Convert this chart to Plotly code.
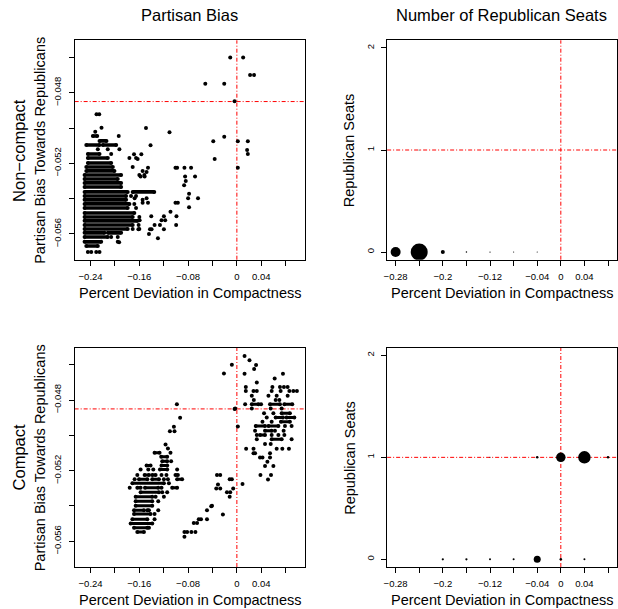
import plotly.graph_objects as go

# ---------------- data ----------------
# Top-left (Non-compact, Partisan bias): individual points
tl_x = [-0.0109, 0.0103, 0.0217, 0.0282, -0.0518, -0.0207, -0.0038, -0.2302, -0.2258, -0.222,
        -0.1491, -0.1105, -0.0207, -0.1938, -0.0387, 0.0016, 0.018, -0.1416, 0.0168, 0.018,
        -0.1687, -0.1567, -0.1628, -0.0364, 0.0016, -0.1007, -0.098, -0.086, -0.0751, -0.1458,
        -0.1481, -0.1579, -0.1513, -0.0849, -0.0686, -0.0838, -0.0865, -0.0784, -0.0637, -0.08,
        -0.1677, -0.1481, -0.1546, -0.1458, -0.1007, -0.0968, -0.0784, -0.1089, -0.1404, -0.1197,
        -0.0991, -0.1595, -0.1236, -0.1176, -0.135, -0.1262, -0.0996, -0.1616, -0.1425, -0.1399,
        -0.1197, -0.1442, -0.1295, -0.1931,
        -0.2323, -0.1927, -0.2281, -0.2118, -0.2062, -0.1763, -0.1654, -0.1709, -0.1546, -0.16,
        -0.1518, -0.1736, -0.1654, -0.1546, -0.1682, -0.1654, -0.16, -0.1612, -0.1709, -0.16,
        -0.2062, -0.1954, -0.1954, -0.2444, -0.2389, -0.2307, -0.2253]
tl_y = [-0.046, -0.046, -0.047, -0.047, -0.04749, -0.04749, -0.04849, -0.04922, -0.04922, -0.04998,
        -0.05, -0.05024, -0.05049, -0.05045, -0.05075, -0.05075, -0.05075, -0.05098, -0.05124, -0.05147,
        -0.05149, -0.05149, -0.05175, -0.05175, -0.05225, -0.05225, -0.05225, -0.05225, -0.05225, -0.05225,
        -0.05249, -0.05275, -0.05275, -0.05275, -0.05275, -0.053, -0.05324, -0.05373, -0.05398, -0.05398,
        -0.05398, -0.05398, -0.05423, -0.05423, -0.05423, -0.05423, -0.05449, -0.05474, -0.055, -0.055,
        -0.055, -0.05522, -0.05522, -0.05522, -0.05549, -0.05549, -0.05549, -0.05573, -0.05573, -0.05573,
        -0.05573, -0.056, -0.05624, -0.05647,
        -0.05021, -0.0512, -0.0512, -0.0512, -0.05147, -0.0517, -0.0517, -0.05221, -0.05243, -0.05266,
        -0.05266, -0.05385, -0.05385, -0.05407, -0.0543, -0.05453, -0.05504, -0.05549, -0.05572, -0.05572,
        -0.05617, -0.05617, -0.05645, -0.05702, -0.05702, -0.05702, -0.05702]
# Top-left: densely packed rows of points (row value, start, end)
tl_row_y = [-0.05045, -0.05073, -0.05096, -0.05096, -0.05147, -0.0517, -0.05198, -0.05221, -0.05243,
            -0.05266, -0.05289, -0.05311, -0.05334, -0.05362, -0.05362, -0.05385, -0.05407, -0.0543,
            -0.05453, -0.05481, -0.05504, -0.05526, -0.05549, -0.05572, -0.05594, -0.05594, -0.05617,
            -0.05645, -0.05668]
tl_row_x0 = [-0.2362, -0.2253, -0.247, -0.2199, -0.2444, -0.2444, -0.2444, -0.247, -0.247,
             -0.2498, -0.2498, -0.2498, -0.2498, -0.2498, -0.1709, -0.2498, -0.2498, -0.2498,
             -0.2498, -0.2498, -0.2498, -0.2498, -0.2498, -0.2498, -0.2498, -0.2117, -0.2498,
             -0.2498, -0.247]
tl_row_x1 = [-0.2291, -0.2139, -0.2253, -0.198, -0.2253, -0.2117, -0.2062, -0.2035, -0.2008,
             -0.1899, -0.1954, -0.1899, -0.1899, -0.1791, -0.1355, -0.1817, -0.1817, -0.1763,
             -0.1791, -0.1682, -0.1709, -0.1628, -0.1709, -0.1791, -0.2171, -0.1899, -0.2117,
             -0.2226, -0.2281]

# Bottom-left (Compact, Partisan bias): individual points
bl_x = [-0.117, -0.1131, -0.1089, -0.1078, -0.1579, -0.1453, -0.1371, -0.098, -0.1633, -0.1236,
        -0.1155, -0.1677, -0.1197, -0.1131, -0.1115, -0.1758, -0.1236, -0.1224, -0.1143, -0.1333,
        -0.1197, -0.129, -0.129, -0.135, -0.135, -0.1442,
        -0.0984, -0.0931, -0.1033, -0.1023, -0.1099, -0.0082, -0.0212, -0.0038, 0.0016,
        -0.086, -0.0816, -0.0746, -0.068, -0.086, -0.0707, -0.0653, -0.0625, -0.0588, -0.049,
        -0.042, -0.049, -0.0229, -0.031, -0.0273, -0.0338, -0.0326, -0.0273, -0.0118, -0.0082,
        -0.0163, -0.0109, -0.0118, -0.006, 0.0093, -0.0408,
        0.0126, 0.0207, 0.0315, 0.0283, 0.0126, 0.0756, 0.062, 0.0327,
        0.0147, 0.0583, 0.0707, 0.0772, 0.0833,
        0.0147, 0.0273, 0.0327, 0.0571, 0.0718, 0.0861, 0.0926, 0.0985,
        0.0245, 0.0518, 0.0653, 0.0833,
        0.0278, 0.0637, 0.0697,
        0.0136, 0.0397,
        -0.0028, 0.0245, 0.0555, 0.0735,
        0.0446, 0.0599, 0.049, 0.042, 0.0571,
        0.0299, 0.0625, 0.0767,
        0.0327, 0.0571, 0.0681, 0.0779,
        0.0327, 0.0898, 0.0462, 0.0555,
        0.0152, 0.0273, 0.0653, 0.0746, 0.0854,
        0.0273, 0.0299, 0.0544, 0.038, 0.042, 0.0544,
        0.0501, 0.0462, 0.0599, 0.0387, 0.056, 0.0511, 0.0789, 0.0898]
bl_y = [-0.05051, -0.05074, -0.05099, -0.05146, -0.05193, -0.05193, -0.05193, -0.05193, -0.05224, -0.05224,
        -0.05224, -0.05248, -0.05248, -0.05248, -0.05272, -0.05297, -0.05297, -0.05323, -0.05323, -0.05348,
        -0.05348, -0.05374, -0.05424, -0.05446, -0.05475, -0.05524,
        -0.04824, -0.049, -0.04951, -0.04976, -0.04976, -0.046, -0.04649, -0.04851, -0.04949,
        -0.05547, -0.05547, -0.05547, -0.05547, -0.05575, -0.05496, -0.05496, -0.05475, -0.05475, -0.05475,
        -0.05401, -0.05424, -0.05448, -0.05278, -0.05301, -0.05301, -0.05225, -0.05225, -0.05248, -0.05248,
        -0.05323, -0.05323, -0.05348, -0.05301, -0.05275, -0.05399,
        -0.0455, -0.04574, -0.04601, -0.04624, -0.04651, -0.04651, -0.04677, -0.047,
        -0.04726, -0.04726, -0.04726, -0.04726, -0.04726,
        -0.04749, -0.04749, -0.04749, -0.04749, -0.04749, -0.04749, -0.04749, -0.04749,
        -0.04776, -0.04776, -0.04776, -0.04776,
        -0.048, -0.048, -0.048,
        -0.04824, -0.04824,
        -0.04847, -0.04847, -0.04847, -0.04847,
        -0.04874, -0.04874, -0.04898, -0.04923, -0.04923,
        -0.04974, -0.04974, -0.04974,
        -0.04998, -0.04998, -0.04998, -0.04998,
        -0.05022, -0.05022, -0.05049, -0.05049,
        -0.05076, -0.05076, -0.05076, -0.05076, -0.05076,
        -0.05101, -0.05101, -0.05101, -0.05125, -0.05125, -0.05125,
        -0.0515, -0.05174, -0.05174, -0.05224, -0.05224, -0.0525, -0.04947, -0.04947]
# Bottom-left: packed rows of points (row value, start, end)
bl_row_y = [-0.05099, -0.05121, -0.05146, -0.0517, -0.0517, -0.05193, -0.05224, -0.05224, -0.05224,
            -0.05248, -0.05248, -0.05248, -0.05272, -0.05297, -0.05297, -0.05297, -0.05323, -0.05348,
            -0.05374, -0.05399, -0.05424, -0.05424, -0.05446, -0.05475, -0.05499, -0.05524, -0.05548,
            -0.04824, -0.04824, -0.04824, -0.04874, -0.04898, -0.04898, -0.04923, -0.04947, -0.04947,
            -0.04974, -0.04998, -0.05022]
bl_row_x0 = [-0.135, -0.1241, -0.1224, -0.1481, -0.1236, -0.1262, -0.1513, -0.1388, -0.1007,
             -0.1605, -0.1388, -0.098, -0.1714, -0.1633, -0.1507, -0.1061, -0.1579, -0.166,
             -0.166, -0.166, -0.1687, -0.1469, -0.1687, -0.1714, -0.1742, -0.1687, -0.1633,
             0.0245, 0.0544, 0.0779, 0.0735, 0.0637, 0.0816, 0.0723, 0.031, 0.0518,
             0.0462, 0.038, 0.0571]
bl_row_x1 = [-0.1268, -0.1143, -0.1143, -0.1416, -0.1143, -0.1143, -0.1442, -0.1333, -0.0968,
             -0.1469, -0.1278, -0.0898, -0.1197, -0.1579, -0.129, -0.098, -0.1278, -0.1388,
             -0.1388, -0.1388, -0.1524, -0.1442, -0.1416, -0.1469, -0.1388, -0.1469, -0.1524,
             0.0354, 0.0707, 0.0909, 0.087, 0.0756, 0.0942, 0.087, 0.0462, 0.0681,
             0.0571, 0.0462, 0.0735]

# Right panels: number of Republican seats (frequency of each outcome)
tr_x = [-0.28, -0.24, -0.2, -0.16, -0.12, -0.08, -0.04, -0.24]
tr_seats = [0, 0, 0, 0, 0, 0, 0, 1]
tr_count = [400, 1156, 64, 9, 6, 5, 5, 4]
br_x = [-0.2, -0.16, -0.12, -0.08, -0.04, 0.0, 0.04, -0.12, -0.04, 0.0, 0.04, 0.08]
br_seats = [0, 0, 0, 0, 0, 0, 0, 1, 1, 1, 1, 1]
br_count = [20, 20, 16, 16, 196, 25, 16, 4, 25, 361, 625, 25]

bias_threshold = -0.0485
seat_threshold = 1

left_xticks = [-0.24, -0.2, -0.16, -0.12, -0.08, -0.04, 0, 0.04, 0.08]
left_xlabels = ["\u22120.24", "", "\u22120.16", "", "\u22120.08", "", "0", "0.04", ""]
left_yticks = [-0.046, -0.048, -0.05, -0.052, -0.054, -0.056]
left_ylabels = ["", "\u22120.048", "", "\u22120.052", "", "\u22120.056"]
right_xticks = [-0.28, -0.24, -0.2, -0.16, -0.12, -0.08, -0.04, 0, 0.04, 0.08]
right_xlabels = ["\u22120.28", "", "\u22120.2", "", "\u22120.12", "", "\u22120.04", "0", "0.04", ""]
right_yticks = [0, 1, 2]
right_ylabels = ["0", "1", "2"]

# ---------------- figure ----------------
FONT = "Liberation Sans, Arial, Helvetica, sans-serif"
W, H = 618, 609


def segs(ys, x0s, x1s):
    xs, yy = [], []
    for y, a, b in zip(ys, x0s, x1s):
        xs += [a, b, None]
        yy += [y, y, None]
    return xs, yy


fig = go.Figure()
dot = dict(color="black", size=4, opacity=1, line=dict(width=0))

sx, sy = segs(tl_row_y, tl_row_x0, tl_row_x1)
fig.add_trace(go.Scatter(x=sx, y=sy, mode="lines+markers", line=dict(color="black", width=3.6),
                         marker=dot, xaxis="x", yaxis="y", hoverinfo="skip"))
fig.add_trace(go.Scatter(x=tl_x, y=tl_y, mode="markers", marker=dot, xaxis="x", yaxis="y"))

sx, sy = segs(bl_row_y, bl_row_x0, bl_row_x1)
fig.add_trace(go.Scatter(x=sx, y=sy, mode="lines+markers", line=dict(color="black", width=3.0),
                         marker=dot, xaxis="x3", yaxis="y3", hoverinfo="skip"))
fig.add_trace(go.Scatter(x=bl_x, y=bl_y, mode="markers", marker=dot, xaxis="x3", yaxis="y3"))

size_k = 0.5
fig.add_trace(go.Scatter(x=tr_x, y=tr_seats, mode="markers",
                         marker=dict(color="black", opacity=1, size=[size_k * c ** 0.5 for c in tr_count],
                                     line=dict(width=0)),
                         xaxis="x2", yaxis="y2"))
fig.add_trace(go.Scatter(x=br_x, y=br_seats, mode="markers",
                         marker=dict(color="black", opacity=1, size=[size_k * c ** 0.5 for c in br_count],
                                     line=dict(width=0)),
                         xaxis="x4", yaxis="y4"))

# red reference lines
red = dict(color="#ff0000", width=1, dash="4px,2px,1px,2px")
for xa, ya, hy in [("x", "y", bias_threshold), ("x2", "y2", seat_threshold),
                   ("x3", "y3", bias_threshold), ("x4", "y4", seat_threshold)]:
    fig.add_shape(type="line", xref=xa + " domain", yref=ya, x0=0, x1=1, y0=hy, y1=hy, line=red, layer="below")
    fig.add_shape(type="line", xref=xa, yref=ya + " domain", x0=0, x1=0, y0=0, y1=1, line=red, layer="below")

tickfont = dict(family=FONT, size=9.5, color="black")


def ax(domain, rng, tv, tt, anchor, angle=0, standoff=0):
    return dict(domain=domain, range=rng, tickvals=tv, ticktext=tt, anchor=anchor,
                ticks="outside", ticklen=5, tickwidth=1, tickcolor="black",
                showline=True, mirror=True, linecolor="black", linewidth=1,
                showgrid=False, zeroline=False, tickfont=tickfont, tickangle=angle,
                ticklabelstandoff=standoff, fixedrange=True)


xl = [72 / W, 303 / W]
xr = [386 / W, 616.5 / W]
yt = [1 - 259.7 / H, 1 - 40.3 / H]
yb = [1 - 567 / H, 1 - 347.7 / H]
lx = [-0.2661, 0.111]
ly = [-0.05746, -0.04503]
rx = [-0.2944, 0.0944]
ry = [-0.075, 2.075]

fig.update_layout(
    width=W, height=H, margin=dict(l=0, r=0, t=0, b=0),
    paper_bgcolor="white", plot_bgcolor="white", showlegend=False,
    xaxis=ax(xl, lx, left_xticks, left_xlabels, "y", standoff=3),
    yaxis=ax(yt, ly, left_yticks, left_ylabels, "x", -90, standoff=4),
    xaxis2=ax(xr, rx, right_xticks, right_xlabels, "y2", standoff=3),
    yaxis2=ax(yt, ry, right_yticks, right_ylabels, "x2", -90, standoff=3),
    xaxis3=ax(xl, lx, left_xticks, left_xlabels, "y3", standoff=3),
    yaxis3=ax(yb, ly, left_yticks, left_ylabels, "x3", -90, standoff=4),
    xaxis4=ax(xr, rx, right_xticks, right_xlabels, "y4", standoff=3),
    yaxis4=ax(yb, ry, right_yticks, right_ylabels, "x4", -90, standoff=3),
)


def ann(text, px, py, size, angle=0):
    fig.add_annotation(text=text, x=px / W, y=1 - py / H, xref="paper", yref="paper",
                       showarrow=False, textangle=angle, xanchor="center", yanchor="middle",
                       font=dict(family=FONT, size=size, color="black"))


cl = (72 + 303) / 2
cr = (386 + 616.5) / 2
ann("Partisan Bias", cl, 15, 16.5)
ann("Number of Republican Seats", cr, 15, 16.5)
ann("Non\u2212compact", 16, 150, 16.5, -90)
ann("Compact", 16, 457.5, 16.5, -90)
for cy in (150, 457.5):
    ann("Partisan Bias Towards Republicans", 37, cy, 14.5, -90)
    ann("Republican Seats", 348, cy, 14.5, -90)
for ty in (293, 600):
    ann("Percent Deviation in Compactness", cl, ty, 14.5)
    ann("Percent Deviation in Compactness", cr, ty, 14.5)

fig.write_html("out.html", config={"displayModeBar": False, "staticPlot": True},
               post_script="document.body.style.margin='0';document.body.style.overflow='hidden';")
